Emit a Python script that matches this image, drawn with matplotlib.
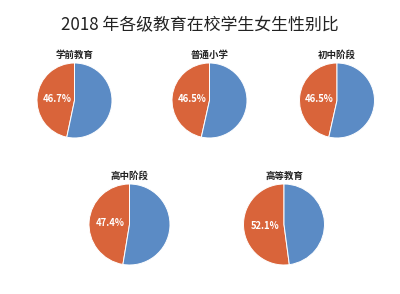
import matplotlib
matplotlib.use("Agg")
import matplotlib.pyplot as plt

plt.rcParams['font.family'] = ['Noto Sans CJK SC', 'DejaVu Sans']

# data
levels = ['学前教育', '普通小学', '初中阶段', '高中阶段', '高等教育']
female_pct = [46.7, 46.5, 46.5, 47.4, 52.1]
male_pct = [100 - v for v in female_pct]

colors = ['#d9643a', '#5b8bc5']   # female, male

W, H = 400, 294
fig = plt.figure(figsize=(W / 100, H / 100), dpi=100)
fig.patch.set_facecolor('white')

# pie centers and radii in pixels (x, y from top, r)
slots = [(74.5, 100.5, 37.5), (209.5, 100.5, 37.5), (337, 100.5, 37.5),
         (129.5, 224.5, 40.5), (284, 224.5, 40.5)]

for i, name in enumerate(levels):
    cx, cy, r = slots[i]
    ax = fig.add_axes([(cx - r) / W, 1 - (cy + r) / H, 2 * r / W, 2 * r / H])
    wedges, texts, autotexts = ax.pie(
        [female_pct[i], male_pct[i]], colors=colors, startangle=90,
        counterclock=True, autopct='%.1f%%', pctdistance=0.47,
        wedgeprops=dict(edgecolor='white', linewidth=0.7),
        textprops=dict(color='white', fontsize=6.8, fontweight='bold'))
    autotexts[1].set_visible(False)
    ax.set_xlim(-1, 1)
    ax.set_ylim(-1, 1)
    ax.set_aspect('equal')
    ax.set_title(name, fontsize=6.8, fontweight='bold', color='#222222', pad=4)

fig.text(0.5, 1 - 25 / H, '2018 年各级教育在校学生女生性别比',
         ha='center', va='center', fontsize=12.2, color='#222222')

fig.savefig('out.png', dpi=100)
